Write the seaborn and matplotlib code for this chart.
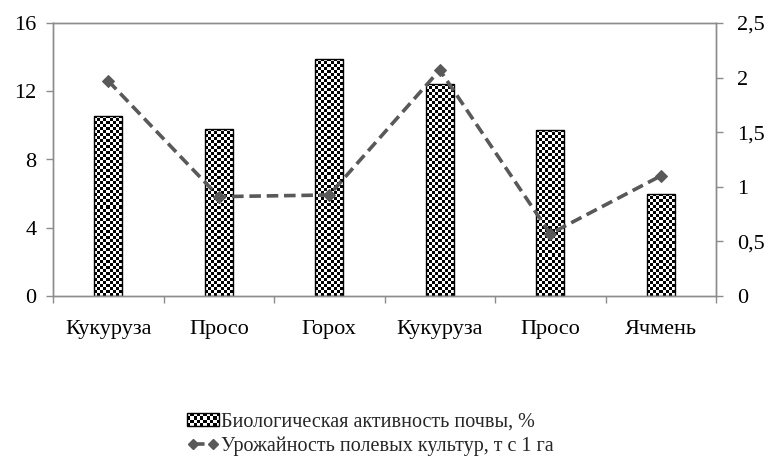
"""Biological soil activity vs field crop yield — bar + dashed line, twin axes."""

import matplotlib
matplotlib.use("Agg")
import matplotlib.pyplot as plt
import numpy as np
import pandas as pd
import seaborn as sns
from matplotlib.image import BboxImage
from matplotlib.legend_handler import HandlerBase
from matplotlib.lines import Line2D
from matplotlib.patches import Rectangle
from matplotlib.transforms import Bbox, TransformedBbox
from matplotlib.ticker import FuncFormatter, MultipleLocator

crops = ["Кукуруза", "Просо", "Горох", "Кукуруза", "Просо", "Ячмень"]
activity = [10.55, 9.8, 13.9, 12.45, 9.75, 6.0]          # %, left axis
crop_yield = [1.97, 0.91, 0.925, 2.07, 0.57, 1.10]        # t/ha, right axis

bar_label = "Биологическая активность почвы, %"
line_label = "Урожайность полевых культур, т с 1 га"

LINE_COLOR = "#595959"
SPINE_COLOR = "#8c8c8c"
CELL_PX = 3  # size of one checker square in pixels

sns.set_theme(style="white")
plt.rcParams["font.family"] = ["Liberation Serif", "DejaVu Serif"]

df = pd.DataFrame({"pos": range(len(crops)), "crop": crops,
                   "activity": activity, "yield": crop_yield})

fig = plt.figure(figsize=(7.64, 4.61), dpi=100)
ax = fig.add_axes([53 / 764, 1 - 296 / 461, 663 / 764, 273 / 461])
ax2 = ax.twinx()

sns.barplot(data=df, x="pos", y="activity", ax=ax, width=0.25,
            color="white", edgecolor="black", linewidth=1.0, saturation=1)
ax.set_xlim(-0.5, len(crops) - 0.5)
ax.set_ylim(0, 16)


def checker(nx, ny):
    return (np.indices((ny, nx)).sum(axis=0) % 2).astype(float)


# checkerboard fill inside each bar, clipped to the bar patch
px_per_x = 663 / len(crops)
px_per_y = 273 / 16
for patch in ax.patches:
    x0, y0 = patch.get_x(), patch.get_y()
    w, h = patch.get_width(), patch.get_height()
    nx = max(1, round(w * px_per_x / CELL_PX))
    ny = max(1, round(h * px_per_y / CELL_PX))
    im = ax.imshow(checker(nx, ny), cmap="gray", extent=[x0, x0 + w, y0, y0 + h],
                   aspect="auto", interpolation="nearest", zorder=patch.get_zorder() - 0.1)
    im.set_clip_path(patch)
    patch.set_facecolor("none")
ax.set_xlim(-0.5, len(crops) - 0.5)
ax.set_ylim(0, 16)

sns.lineplot(data=df, x="pos", y="yield", ax=ax2, color=LINE_COLOR, linewidth=2.6,
             marker="D", markersize=6, markeredgecolor=LINE_COLOR)
ax2.lines[0].set_dashes((3.2, 1.6))
ax2.set_ylim(0, 2.5)
ax2.set_xlim(-0.5, len(crops) - 0.5)

# axes cosmetics
for a in (ax, ax2):
    a.set_xlabel("")
    a.set_ylabel("")
    for sp in a.spines.values():
        sp.set_color(SPINE_COLOR)
        sp.set_linewidth(1.0)

ax.yaxis.set_major_locator(MultipleLocator(4))
ax2.yaxis.set_major_locator(MultipleLocator(0.5))
ax2.yaxis.set_major_formatter(FuncFormatter(lambda v, _: f"{v:g}".replace(".", ",")))

ax.set_xticks(range(len(crops)))
ax.set_xticklabels(crops)
ax.set_xticks(np.arange(-0.5, len(crops)), minor=True)
ax.tick_params(axis="x", which="major", length=0, pad=17, labelsize=16, colors="black")
ax.tick_params(axis="x", which="minor", length=5, width=1, color=SPINE_COLOR, direction="out", bottom=True)
ax.tick_params(axis="y", length=5, width=1, color=SPINE_COLOR, direction="out", left=True,
               labelsize=16, labelcolor="black", pad=7)
ax2.tick_params(axis="y", length=5, width=1, color=SPINE_COLOR, direction="out", right=True,
                labelsize=16, labelcolor="black", pad=10)


class CheckerHandler(HandlerBase):
    def create_artists(self, legend, orig_handle, xdescent, ydescent, width, height, fontsize, trans):
        box = Bbox.from_bounds(-xdescent, -ydescent, width, height)
        img = BboxImage(TransformedBbox(box, trans), cmap="gray", interpolation="nearest", origin="lower")
        img.set_data(checker(10, 4))
        rect = Rectangle((-xdescent, -ydescent), width, height, facecolor="none",
                         edgecolor="black", linewidth=1.0, transform=trans)
        return [img, rect]


bar_proxy = Rectangle((0, 0), 1, 1)
line_proxy = Line2D([], [], color=LINE_COLOR, linewidth=2.6, marker="D", markersize=5,
                    dashes=(3.2, 1.6))
fig.legend([bar_proxy, line_proxy], [bar_label, line_label],
           handler_map={Rectangle: CheckerHandler()},
           loc="center", bbox_to_anchor=(0.485, 1 - 434 / 461), frameon=False,
           fontsize=14.5, numpoints=2, handlelength=1.6, handleheight=0.6,
           handletextpad=0.1, labelspacing=0.25)

fig.savefig("out.png", dpi=100)
plt.close(fig)
